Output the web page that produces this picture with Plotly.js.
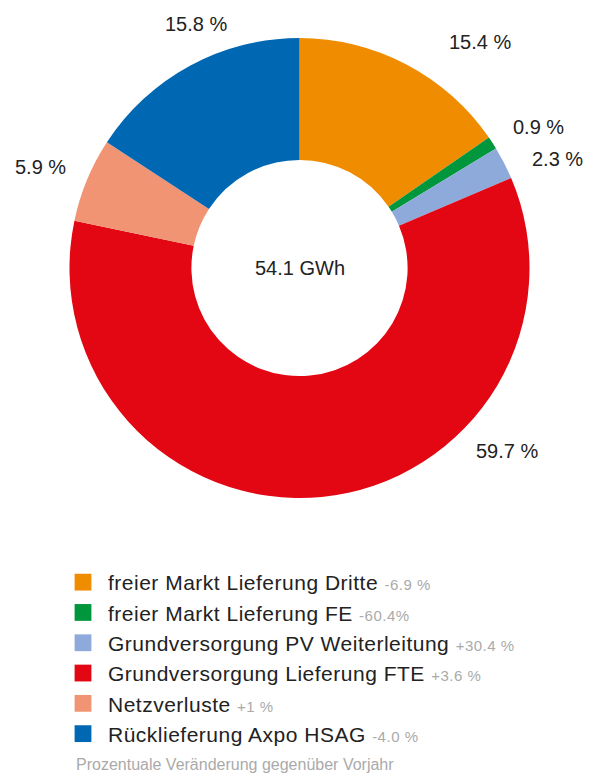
<!DOCTYPE html>
<html><head><meta charset="utf-8">
<script src="https://cdn.plot.ly/plotly-3.0.1.min.js"></script>
<style>body{margin:0;background:#fff}#c{width:599px;height:774px}</style>
</head><body><div id="c"></div>
<script>
const categories = ["freier Markt Lieferung Dritte","freier Markt Lieferung FE","Grundversorgung PV Weiterleitung","Grundversorgung Lieferung FTE","Netzverluste","Rücklieferung Axpo HSAG"];
const shares = [15.4, 0.9, 2.3, 59.7, 5.9, 15.8];
const changes = ["-6.9 %","-60.4%","+30.4 %","+3.6 %","+1 %","-4.0 %"];
const colors = ["#f08c00","#00963c","#8eaadb","#e30613","#f09474","#0068b3"];
const total = "54.1 GWh";
const footer = "Prozentuale Veränderung gegenüber Vorjahr";
// label positions (pixels) for percentage labels
const labelPos = [[480,42],[538,127],[557,159],[507,451],[40,167],[196,24]];

const W = 599, H = 774;
const font = "Liberation Sans, Arial, sans-serif";
const px = x => x / W, py = y => 1 - y / H;

const names = categories.map((c,i)=>c+' <span style="color:#aaaaaa;font-size:15px">'+changes[i]+'</span>');

const trace = {
  type: 'pie', labels: names, values: shares, sort: false, direction: 'clockwise', rotation: 0,
  hole: 0.47, marker: {colors: colors, line: {width: 0}}, textinfo: 'none', hoverinfo: 'none',
  domain: {x: [0, 1], y: [py(498), py(38)]}
};
const annotations = shares.map((v,i)=>({
  text: v.toFixed(1) + ' %', x: px(labelPos[i][0]), y: py(labelPos[i][1]), xref: 'paper', yref: 'paper',
  showarrow: false, xanchor: 'center', yanchor: 'middle', font: {size: 20, color: '#222', family: font}
}));
annotations.push({text: total, x: px(300), y: py(268), xref:'paper', yref:'paper', showarrow:false,
  xanchor:'center', yanchor:'middle', font:{size:20,color:'#222',family:font}});
annotations.push({text: footer, x: px(74), y: py(764), xref:'paper', yref:'paper', showarrow:false,
  xanchor:'left', yanchor:'middle', font:{size:16,color:'#aaaaaa',family:font}});

const layout = {
  width: W, height: H, margin: {l:0,r:0,t:0,b:0}, paper_bgcolor: '#fff', showlegend: true,
  legend: {x: px(68), y: py(562), xanchor:'left', yanchor:'top', font:{size:21,color:'#222',family:font},
    bgcolor:'rgba(0,0,0,0)', traceorder:'normal'},
  annotations: annotations
};
Plotly.newPlot('c', [trace], layout, {staticPlot:true}).then(()=>{
  document.querySelectorAll('.legendpoints path').forEach(p=>{
    p.setAttribute('transform', (p.getAttribute('transform')||'') + ' translate(-5,0) scale(1.4)');
  });
  document.querySelectorAll('.legendtext').forEach(t=>{ t.style.letterSpacing = '0.5px'; });
  document.querySelectorAll('clipPath[id^="legend"] rect').forEach(r=>{ r.setAttribute('width', 560); });
});
</script></body></html>
